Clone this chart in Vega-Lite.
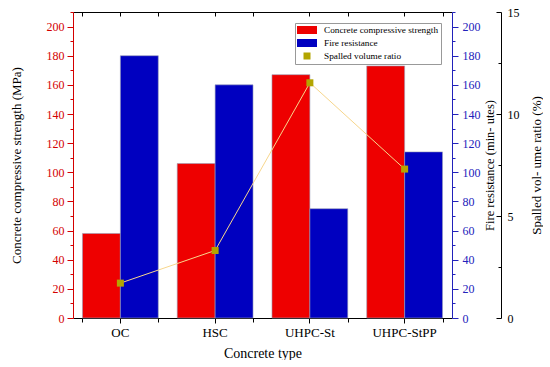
{
  "$schema": "https://vega.github.io/schema/vega-lite/v6.json",
  "width": 379,
  "height": 306,
  "padding": {"left": 10, "top": 6, "right": 0, "bottom": 0},
  "config": {
    "view": {"stroke": null},
    "font": "Liberation Serif, Times New Roman, serif",
    "axis": {"labelFont": "Liberation Serif, Times New Roman, serif", "titleFont": "Liberation Serif, Times New Roman, serif", "titleFontWeight": "normal", "grid": false, "labelFontSize": 12, "titleFontSize": 13, "titleColor": "black"},
    "legend": {"labelFont": "Liberation Serif, Times New Roman, serif"}
  },
  "data": {
    "values": [
      {"type": "OC", "series": "Concrete compressive strength", "value": 58},
      {"type": "OC", "series": "Fire resistance", "value": 180},
      {"type": "OC", "series": "Spalled volume ratio", "value": 1.71},
      {"type": "HSC", "series": "Concrete compressive strength", "value": 106},
      {"type": "HSC", "series": "Fire resistance", "value": 160},
      {"type": "HSC", "series": "Spalled volume ratio", "value": 3.31},
      {"type": "UHPC-St", "series": "Concrete compressive strength", "value": 167},
      {"type": "UHPC-St", "series": "Fire resistance", "value": 75},
      {"type": "UHPC-St", "series": "Spalled volume ratio", "value": 11.53},
      {"type": "UHPC-StPP", "series": "Concrete compressive strength", "value": 173},
      {"type": "UHPC-StPP", "series": "Fire resistance", "value": 114},
      {"type": "UHPC-StPP", "series": "Spalled volume ratio", "value": 7.3}
    ]
  },
  "resolve": {"scale": {"y": "independent"}, "axis": {"x": "independent", "y": "independent"}},
  "layer": [
    {
      "transform": [{"filter": "datum.series === 'Concrete compressive strength'"}],
      "mark": {"type": "bar", "stroke": "#9aa0b8", "strokeWidth": 0.6},
      "encoding": {
        "x": {"field": "type", "type": "nominal", "sort": ["OC", "HSC", "UHPC-St", "UHPC-StPP"],
          "scale": {"paddingInner": 0.2, "paddingOuter": 0.1},
          "axis": {"orient": "bottom", "title": "Concrete type", "labelAngle": 0, "tickSize": 5, "domainColor": "black", "tickColor": "black", "labelColor": "black", "labelPadding": 3, "titlePadding": 7, "labelFontSize": 13, "titleFontSize": 14}},
        "xOffset": {"field": "series", "scale": {"domain": ["Concrete compressive strength", "Fire resistance"], "paddingInner": 0, "paddingOuter": 0}},
        "y": {"field": "value", "type": "quantitative", "scale": {"domain": [0, 210], "nice": false},
          "axis": {"orient": "left", "title": "Concrete compressive strength (MPa)",
            "values": [0,10,20,30,40,50,60,70,80,90,100,110,120,130,140,150,160,170,180,190,200,210],
            "labelExpr": "datum.value % 20 === 0 ? datum.label : ''",
            "tickSize": {"condition": {"test": "datum.value % 20 === 0", "value": 6}, "value": 3},
            "domainColor": "#d40000", "tickColor": "#d40000", "labelColor": "#d40000", "labelPadding": 3, "titlePadding": 23}},
        "color": {"field": "series", "type": "nominal",
          "scale": {"domain": ["Concrete compressive strength", "Fire resistance", "Spalled volume ratio"], "range": ["#ee0000", "#0000c0", "#b3a500"]},
          "legend": {"title": null, "orient": "none", "legendX": 222, "legendY": 11, "strokeColor": "#999999", "fillColor": "white", "padding": 2, "labelFontSize": 9.25, "symbolSize": 100, "symbolOffset": 5, "rowPadding": 2, "labelOffset": 12, "symbolStrokeWidth": 0}}
      }
    },
    {
      "transform": [{"filter": "datum.series === 'Fire resistance'"}],
      "mark": {"type": "bar", "stroke": "#9aa0b8", "strokeWidth": 0.6},
      "encoding": {
        "x": {"field": "type", "type": "nominal", "sort": ["OC", "HSC", "UHPC-St", "UHPC-StPP"],
          "axis": {"orient": "bottom", "title": null, "labels": false, "domain": false, "tickBand": "extent", "tickSize": 4, "tickColor": "black"}},
        "xOffset": {"field": "series"},
        "y": {"field": "value", "type": "quantitative", "scale": {"domain": [0, 210], "nice": false},
          "axis": {"orient": "right", "title": "Fire resistance (min- utes)",
            "values": [0,10,20,30,40,50,60,70,80,90,100,110,120,130,140,150,160,170,180,190,200,210],
            "labelExpr": "datum.value % 20 === 0 ? datum.label : ''",
            "tickSize": {"condition": {"test": "datum.value % 20 === 0", "value": 6}, "value": 3},
            "domainColor": "#2222bb", "tickColor": "#2222bb", "labelColor": "#2222bb", "labelPadding": 4, "titlePadding": 3, "titleAngle": 270, "titleBaseline": "top", "titleFontSize": 12.5}},
        "color": {"field": "series", "type": "nominal"}
      }
    },
    {
      "transform": [{"filter": "datum.series === 'Spalled volume ratio'"}],
      "mark": {"type": "line", "color": "#f7d68c", "strokeWidth": 1},
      "encoding": {
        "x": {"field": "type", "type": "nominal", "sort": ["OC", "HSC", "UHPC-St", "UHPC-StPP"],
          "axis": {"orient": "top", "title": null, "labels": false, "domain": false, "tickBand": "extent", "tickSize": -4, "tickColor": "black"}},
        "y": {"field": "value", "type": "quantitative", "scale": {"domain": [0, 15], "nice": false}, "axis": null}
      }
    },
    {
      "transform": [{"filter": "datum.series === 'Spalled volume ratio'"}],
      "mark": {"type": "point", "filled": true, "size": 100, "opacity": 1},
      "encoding": {
        "x": {"field": "type", "type": "nominal", "sort": ["OC", "HSC", "UHPC-St", "UHPC-StPP"],
          "axis": {"orient": "top", "title": null, "labels": false, "domainColor": "black", "tickSize": -4, "tickColor": "black"}},
        "y": {"field": "value", "type": "quantitative", "scale": {"domain": [0, 15], "nice": false},
          "axis": {"orient": "right", "offset": 49, "title": "Spalled vol- ume ratio (%)",
            "values": [0, 2.5, 5, 7.5, 10, 12.5, 15],
            "labelExpr": "datum.value % 5 === 0 ? datum.label : ''",
            "tickSize": {"condition": {"test": "datum.value % 5 === 0", "value": -5}, "value": -3},
            "domainColor": "black", "tickColor": "black", "labelColor": "black", "labelPadding": 11, "titlePadding": 11, "titleAngle": 270, "titleBaseline": "top"}},
        "color": {"field": "series", "type": "nominal"},
        "shape": {"field": "series", "type": "nominal",
          "scale": {"domain": ["Concrete compressive strength", "Fire resistance", "Spalled volume ratio"], "range": ["M-2,-0.8L2,-0.8L2,0.8L-2,0.8Z", "M-2,-0.8L2,-0.8L2,0.8L-2,0.8Z", "M-0.7,-0.7L0.7,-0.7L0.7,0.7L-0.7,0.7Z"]},
          "legend": {"title": null, "orient": "none", "legendX": 222, "legendY": 11, "strokeColor": "#999999", "fillColor": "white", "padding": 2, "labelFontSize": 9.25, "symbolSize": 100, "symbolOffset": 5, "rowPadding": 2, "labelOffset": 12, "symbolStrokeWidth": 0}}
      }
    }
  ]
}
